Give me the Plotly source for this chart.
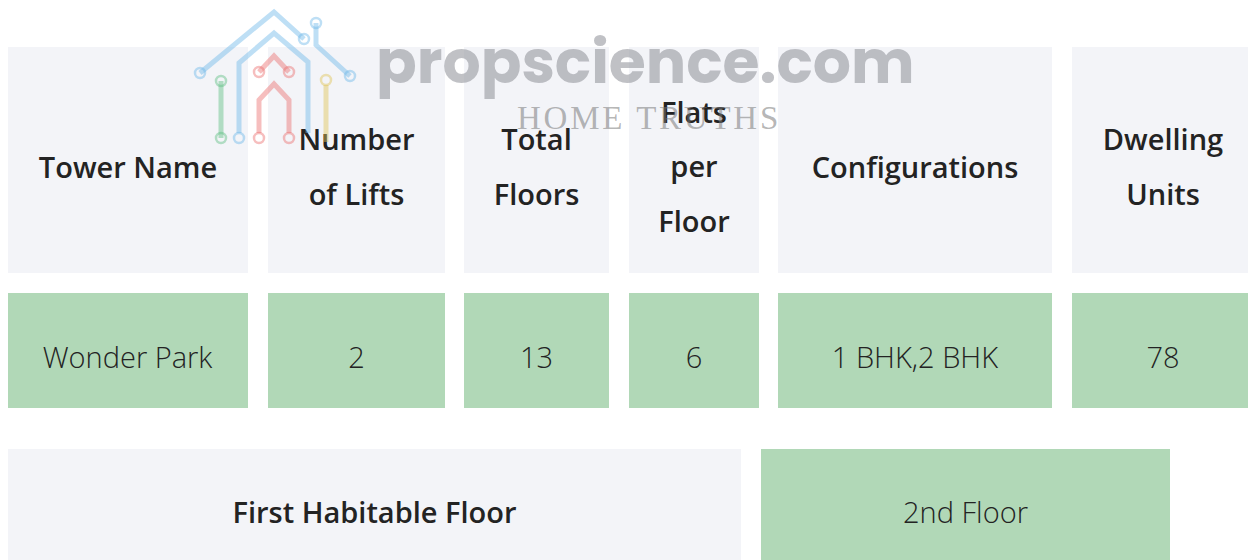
import plotly.graph_objects as go

# ---------------- data ----------------
header_labels = ["Tower Name", "Number<br>of Lifts", "Total<br>Floors",
                 "Flats<br>per<br>Floor", "Configurations", "Dwelling<br>Units"]
row_values = ["Wonder Park", "2", "13", "6", "1 BHK,2 BHK", "78"]
footer_label = ["First Habitable Floor"]
footer_value = ["2nd Floor"]

# ---------------- layout constants (window pixels) ----------------
OFF = 8                      # page body margin
W, H = 1256 - OFF, 560 - OFF
col_left = [8, 268, 464, 629, 778, 1072]
col_right = [248, 445, 609, 759, 1052, 1254]
row_header = (47, 273)
row_value = (293, 408)
row_footer = (449, 574)
foot_left = [8, 761]
foot_right = [741, 1170]
TEXT_DROP = 6                # text sits slightly below the cell centre

GREY = "#f3f4f8"
GREEN = "#b1d8b7"
TXT = "#232323"
FONT = "Open Sans, Inter, sans-serif"
FS = 29


def wrap(label, size, weight):
    lines = label.split("<br>")
    return "<br>".join(
        f"<span style='font-size:{size}px;font-weight:{weight}'>{ln}</span>" for ln in lines)


def centers(lefts, rights):
    return [(l + r) / 2 for l, r in zip(lefts, rights)]


def widths(lefts, rights):
    return [r - l for l, r in zip(lefts, rights)]


fig = go.Figure()


def add_row(lefts, rights, top, bottom, fills, labels, weights, parent_size, drop):
    n = len(labels)
    # cell fills
    fig.add_trace(go.Bar(
        x=centers(lefts, rights), width=widths(lefts, rights),
        base=[top] * n, y=[bottom - top] * n,
        marker=dict(color=fills, line=dict(width=0)),
        hoverinfo="skip", showlegend=False,
    ))
    # cell texts
    fig.add_trace(go.Bar(
        x=centers(lefts, rights), width=widths(lefts, rights),
        base=[top + 2 * drop] * n, y=[bottom - top - 2 * drop] * n,
        marker=dict(color="rgba(0,0,0,0)", line=dict(width=0)),
        text=[wrap(t, FS, w) for t, w in zip(labels, weights)],
        textposition="inside", insidetextanchor="middle", textangle=0,
        constraintext="none",
        textfont=dict(family=FONT, size=parent_size, color=TXT),
        hoverinfo="skip", showlegend=False,
    ))


add_row(col_left, col_right, row_header[0], row_header[1], GREY,
        header_labels, [600] * 6, 42, TEXT_DROP)
add_row(col_left, col_right, row_value[0], row_value[1], GREEN,
        row_values, [300] * 6, FS, TEXT_DROP)
add_row(foot_left, foot_right, row_footer[0], row_footer[1], [GREY, GREEN],
        footer_label + footer_value, [600, 300], FS, 0)

# ---------------- watermark ----------------
BLUE = "rgba(110,185,232,0.45)"
RED = "rgba(236,110,110,0.45)"
GRN = "rgba(95,190,130,0.45)"
YEL = "rgba(225,195,85,0.45)"
shapes = []


def poly(pts, color):
    path = "M " + " L ".join(f"{x},{y}" for x, y in pts)
    shapes.append(dict(type="path", path=path, xref="x", yref="y", layer="above",
                       line=dict(color=color, width=5)))


def ring(cx, cy, color, r=5):
    shapes.append(dict(type="circle", xref="x", yref="y", layer="above",
                       x0=cx - r, x1=cx + r, y0=cy - r, y1=cy + r,
                       line=dict(color=color, width=2.5), fillcolor="rgba(255,255,255,0)"))


poly([(200, 73), (274, 12), (304, 39)], BLUE)
ring(200, 73, BLUE); ring(304, 39, BLUE)
poly([(316, 23), (316, 45), (350, 76)], BLUE)
ring(316, 23, BLUE); ring(350, 76, BLUE)
poly([(239, 133), (239, 63), (274, 33), (308, 62), (308, 133)], BLUE)
ring(239, 138, BLUE)
poly([(221, 81), (221, 138)], GRN)
ring(221, 81, GRN); ring(221, 138, GRN)
poly([(259, 72), (274, 56), (289, 72)], RED)
ring(259, 72, RED); ring(289, 72, RED)
poly([(259, 133), (259, 100), (274, 84), (289, 100), (289, 133)], RED)
ring(259, 138, RED); ring(289, 138, RED)
poly([(326, 85), (326, 142)], YEL)
ring(326, 80, YEL)

HS = "\u200a"
annotations = [
    dict(text="<b>propscience.com</b>", x=645, y=62, xref="x", yref="y",
         showarrow=False, font=dict(family="Poppins, Open Sans, sans-serif", size=60,
                                    color="rgba(150,152,158,0.6)")),
    dict(text=HS.join("HOME TRUTHS"), x=647, y=118, xref="x", yref="y", showarrow=False,
         font=dict(family="Liberation Serif, serif", size=33, color="rgba(120,120,120,0.55)")),
]

fig.update_layout(
    width=W, height=H,
    margin=dict(l=0, r=0, t=0, b=0),
    paper_bgcolor="white", plot_bgcolor="white",
    barmode="overlay", bargap=0,
    xaxis=dict(range=[OFF, OFF + W], visible=False, fixedrange=True),
    yaxis=dict(range=[OFF + H, OFF], visible=False, fixedrange=True),
    shapes=shapes, annotations=annotations,
    uniformtext=dict(mode=False),
)

fig.write_html("out.html", config={"displayModeBar": False})
